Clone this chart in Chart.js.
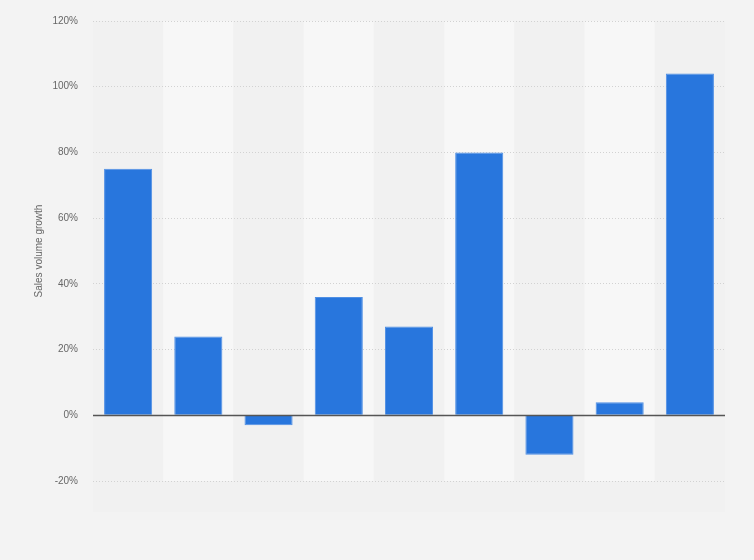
<!DOCTYPE html>
<html>
<head>
<meta charset="utf-8">
<script src="https://cdn.jsdelivr.net/npm/chart.js@4/dist/chart.umd.min.js"></script>
<style>
  html, body { margin: 0; padding: 0; background: #f3f3f3; }
  #wrap { width: 754px; height: 560px; }
</style>
</head>
<body>
<div id="wrap"><canvas id="growthChart" width="754" height="560"></canvas></div>
<script>
// Values (no category labels are shown)
const categories = ['1', '2', '3', '4', '5', '6', '7', '8', '9'];
const growthValues = [75, 24, -3, 36, 27, 80, -12, 4, 104];
const yTicks = [-20, 0, 20, 40, 60, 80, 100, 120];

// Alternating column bands behind the bars
const bandPlugin = {
    id: 'bands',
    beforeDraw(chart) {
        const { ctx, chartArea, scales } = chart;
        const x = scales.x;
        const step = x.getPixelForValue(1) - x.getPixelForValue(0);
        ctx.save();
        // faint strip below the plot where axis labels would sit
        ctx.fillStyle = '#f1f1f1';
        ctx.fillRect(chartArea.left, chartArea.bottom, chartArea.right - chartArea.left, 31);
        categories.forEach((c, i) => {
            const cx = x.getPixelForValue(i);
            ctx.fillStyle = i % 2 === 0 ? '#f1f1f1' : '#f7f7f7';
            ctx.fillRect(cx - step / 2, chartArea.top, step, chartArea.bottom - chartArea.top);
        });
        ctx.restore();
    }
};

// Solid zero line over the bars
const zeroLinePlugin = {
    id: 'zeroLine',
    afterDatasetsDraw(chart) {
        const { ctx, chartArea, scales } = chart;
        const y = Math.round(scales.y.getPixelForValue(0)) + 0.5;
        ctx.save();
        ctx.strokeStyle = '#555555';
        ctx.lineWidth = 1.5;
        ctx.beginPath();
        ctx.moveTo(chartArea.left, y);
        ctx.lineTo(chartArea.right, y);
        ctx.stroke();
        ctx.restore();
    }
};

const ctx = document.getElementById('growthChart').getContext('2d');
new Chart(ctx, {
    type: 'bar',
    data: {
        labels: categories,
        datasets: [{
            label: 'Sales volume growth',
            data: growthValues,
            backgroundColor: '#2876dd',
            borderColor: '#4f8fe4',
            borderWidth: 1,
            barPercentage: 0.685,
            categoryPercentage: 1
        }]
    },
    options: {
        responsive: false,
        animation: false,
        layout: { padding: { left: 33, right: 29, top: 20, bottom: 79 } },
        plugins: {
            legend: { display: false },
            tooltip: { enabled: false }
        },
        scales: {
            x: {
                display: false,
                grid: { display: false }
            },
            y: {
                min: -20,
                max: 120,
                afterBuildTicks(scale) {
                    scale.ticks = yTicks.map(v => ({ value: v }));
                },
                afterFit(scale) {
                    scale.width = 60;
                },
                grid: {
                    drawTicks: false,
                    color: c => c.tick && c.tick.value === 0 ? 'rgba(0,0,0,0)' : '#d2d2d2',
                    lineWidth: 1
                },
                border: { display: false, dash: [1, 2] },
                ticks: {
                    padding: 15,
                    color: '#666666',
                    font: { family: 'Liberation Sans', size: 10 },
                    callback: v => v + '%'
                },
                title: {
                    display: true,
                    text: 'Sales volume growth',
                    color: '#666666',
                    padding: 0,
                    font: { family: 'Liberation Sans', size: 10 }
                }
            }
        }
    },
    plugins: [bandPlugin, zeroLinePlugin]
});
</script>
</body>
</html>
